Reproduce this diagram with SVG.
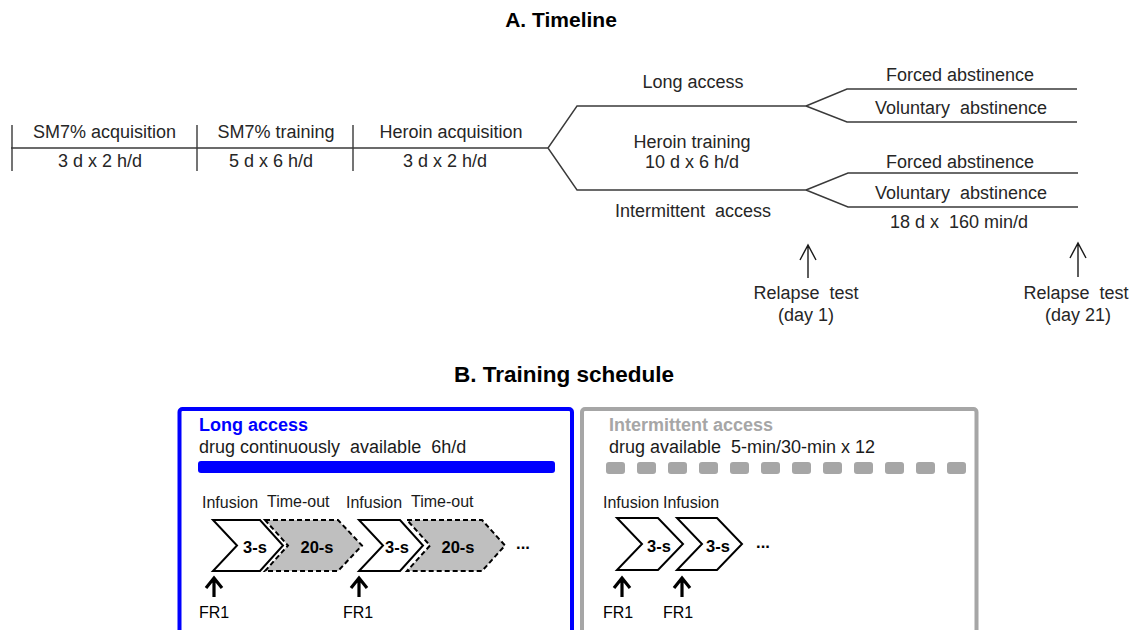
<svg xmlns="http://www.w3.org/2000/svg" width="1136" height="630" viewBox="0 0 1136 630">
<style>
text{font-family:"Liberation Sans",Arial,sans-serif;fill:#262626;white-space:pre}
.t{font-size:18px;text-anchor:middle}
.title{font-size:21px;font-weight:bold;text-anchor:middle;fill:#000}
.ln{stroke:#3a3a3a;stroke-width:1.4;fill:none}
.arr{stroke:#1a1a1a;stroke-width:1.4;fill:none}
.sm{font-size:16px;fill:#000}
.lbl{font-size:16px;fill:#1a1a1a}
.bs{font-size:16.5px;font-weight:bold;text-anchor:middle;fill:#000}
.chw{fill:#fff;stroke:#000;stroke-width:2;stroke-linejoin:miter}
.chg{fill:#bfbfbf;stroke:#000;stroke-width:2;stroke-dasharray:5 3}
.fr{stroke:#000;stroke-width:3.2;fill:none}
.sq{fill:#a6a6a6}
</style>
<text class="title" x="561" y="27">A. Timeline</text>
<text class="title" x="564" y="382" style="font-size:22.5px">B. Training schedule</text>

<g id="connectors">
  <path class="ln" d="M11,148 H548"/>
  <path class="ln" d="M12,125 V171 M197,125 V171 M353,125 V171"/>
  <path class="ln" d="M548,148 L577,106 H806 M548,148 L577,190 H806"/>
  <path class="ln" d="M806,106 L847,89 H1077 M806,106 L847,122 H1077"/>
  <path class="ln" d="M806,190 L848,173 H1078 M806,190 L848,207 H1078"/>
  <path class="arr" d="M808,278 V245 M800,260 L808,245 L816,260"/>
  <path class="arr" d="M1078,277 V243 M1070,258 L1078,243 L1086,258"/>
</g>

<g id="sm7-acquisition">
  <text class="t" x="104.5" y="138">SM7% acquisition</text>
  <text class="t" x="100" y="167">3 d x 2 h/d</text>
</g>
<g id="sm7-training">
  <text class="t" x="276" y="138">SM7% training</text>
  <text class="t" x="271" y="167">5 d x 6 h/d</text>
</g>
<g id="heroin-acquisition">
  <text class="t" x="451" y="138">Heroin acquisition</text>
  <text class="t" x="445" y="167">3 d x 2 h/d</text>
</g>
<g id="heroin-training">
  <text class="t" x="693" y="88">Long access</text>
  <text class="t" x="692" y="148">Heroin training</text>
  <text class="t" x="692" y="168">10 d x 6 h/d</text>
  <text class="t" x="693" y="217">Intermittent  access</text>
</g>
<g id="abstinence-long">
  <text class="t" x="960" y="81">Forced abstinence</text>
  <text class="t" x="961" y="114">Voluntary  abstinence</text>
</g>
<g id="abstinence-intermittent">
  <text class="t" x="960" y="168">Forced abstinence</text>
  <text class="t" x="961" y="199">Voluntary  abstinence</text>
  <text class="t" x="959" y="228">18 d x  160 min/d</text>
</g>
<g id="relapse-day1">
  <text class="t" x="806" y="299">Relapse  test</text>
  <text class="t" x="806" y="321">(day 1)</text>
</g>
<g id="relapse-day21">
  <text class="t" x="1076" y="299">Relapse  test</text>
  <text class="t" x="1078" y="321">(day 21)</text>
</g>

<g id="long-access-box">
  <rect x="179.5" y="409" width="392.5" height="240" rx="3" fill="#fff" stroke="#0000ff" stroke-width="4"/>
  <text x="199" y="431" style="font-size:18px;font-weight:bold;fill:#0000ff">Long access</text>
  <text x="199" y="453" style="font-size:18px;fill:#1a1a1a">drug continuously  available  6h/d</text>
  <rect x="198" y="461" width="357" height="12" rx="3" fill="#0000ff"/>
  <text class="lbl" x="202" y="508">Infusion</text>
  <text class="lbl" x="267" y="507">Time-out</text>
  <text class="lbl" x="346" y="508">Infusion</text>
  <text class="lbl" x="411" y="507">Time-out</text>
  <polygon class="chw" points="213,520 260,520 283,545.5 260,571 213,571 237,545.5"/>
  <polygon class="chg" points="265,520 338,520 362,545.5 338,571 265,571 288,545.5"/>
  <polygon class="chw" points="359,520 400,520 423,545.5 400,571 359,571 383,545.5"/>
  <polygon class="chg" points="407,520 482,520 505,545.5 482,571 407,571 430,545.5"/>
  <text class="bs" x="255" y="553">3-s</text>
  <text class="bs" x="317" y="553">20-s</text>
  <text class="bs" x="397" y="553">3-s</text>
  <text class="bs" x="458" y="553">20-s</text>
  <text class="bs" x="523" y="549">...</text>
  <path class="fr" d="M214,597 V579 M206,588 L214,578 L222,588"/>
  <path class="fr" d="M359,597 V579 M351,588 L359,578 L367,588"/>
  <text class="sm" x="199" y="618">FR1</text>
  <text class="sm" x="343" y="618">FR1</text>
</g>

<g id="intermittent-access-box">
  <rect x="582" y="409" width="394.5" height="240" rx="3" fill="#fff" stroke="#a6a6a6" stroke-width="4"/>
  <text x="609" y="431" style="font-size:18px;font-weight:bold;fill:#a6a6a6">Intermittent access</text>
  <text x="609" y="453" style="font-size:18px;fill:#1a1a1a">drug available  5-min/30-min x 12</text>
  <rect class="sq" x="606" y="462" width="19" height="12" rx="3"/>
  <rect class="sq" x="637" y="462" width="19" height="12" rx="3"/>
  <rect class="sq" x="668" y="462" width="19" height="12" rx="3"/>
  <rect class="sq" x="699" y="462" width="19" height="12" rx="3"/>
  <rect class="sq" x="730" y="462" width="19" height="12" rx="3"/>
  <rect class="sq" x="761" y="462" width="19" height="12" rx="3"/>
  <rect class="sq" x="792" y="462" width="19" height="12" rx="3"/>
  <rect class="sq" x="823" y="462" width="19" height="12" rx="3"/>
  <rect class="sq" x="854" y="462" width="19" height="12" rx="3"/>
  <rect class="sq" x="885" y="462" width="19" height="12" rx="3"/>
  <rect class="sq" x="916" y="462" width="19" height="12" rx="3"/>
  <rect class="sq" x="947" y="462" width="19" height="12" rx="3"/>
  <text class="lbl" x="603" y="508">Infusion</text>
  <text class="lbl" x="663" y="508">Infusion</text>
  <polygon class="chw" points="617,518 658,518 683,544 658,570 617,570 642,544"/>
  <polygon class="chw" points="677,518 717,518 742,544 717,570 677,570 702,544"/>
  <text class="bs" x="659" y="552">3-s</text>
  <text class="bs" x="718" y="552">3-s</text>
  <text class="bs" x="763" y="548">...</text>
  <path class="fr" d="M622,597 V579 M614,588 L622,578 L630,588"/>
  <path class="fr" d="M682,597 V579 M674,588 L682,578 L690,588"/>
  <text class="sm" x="603" y="618">FR1</text>
  <text class="sm" x="663" y="618">FR1</text>
</g>
</svg>
